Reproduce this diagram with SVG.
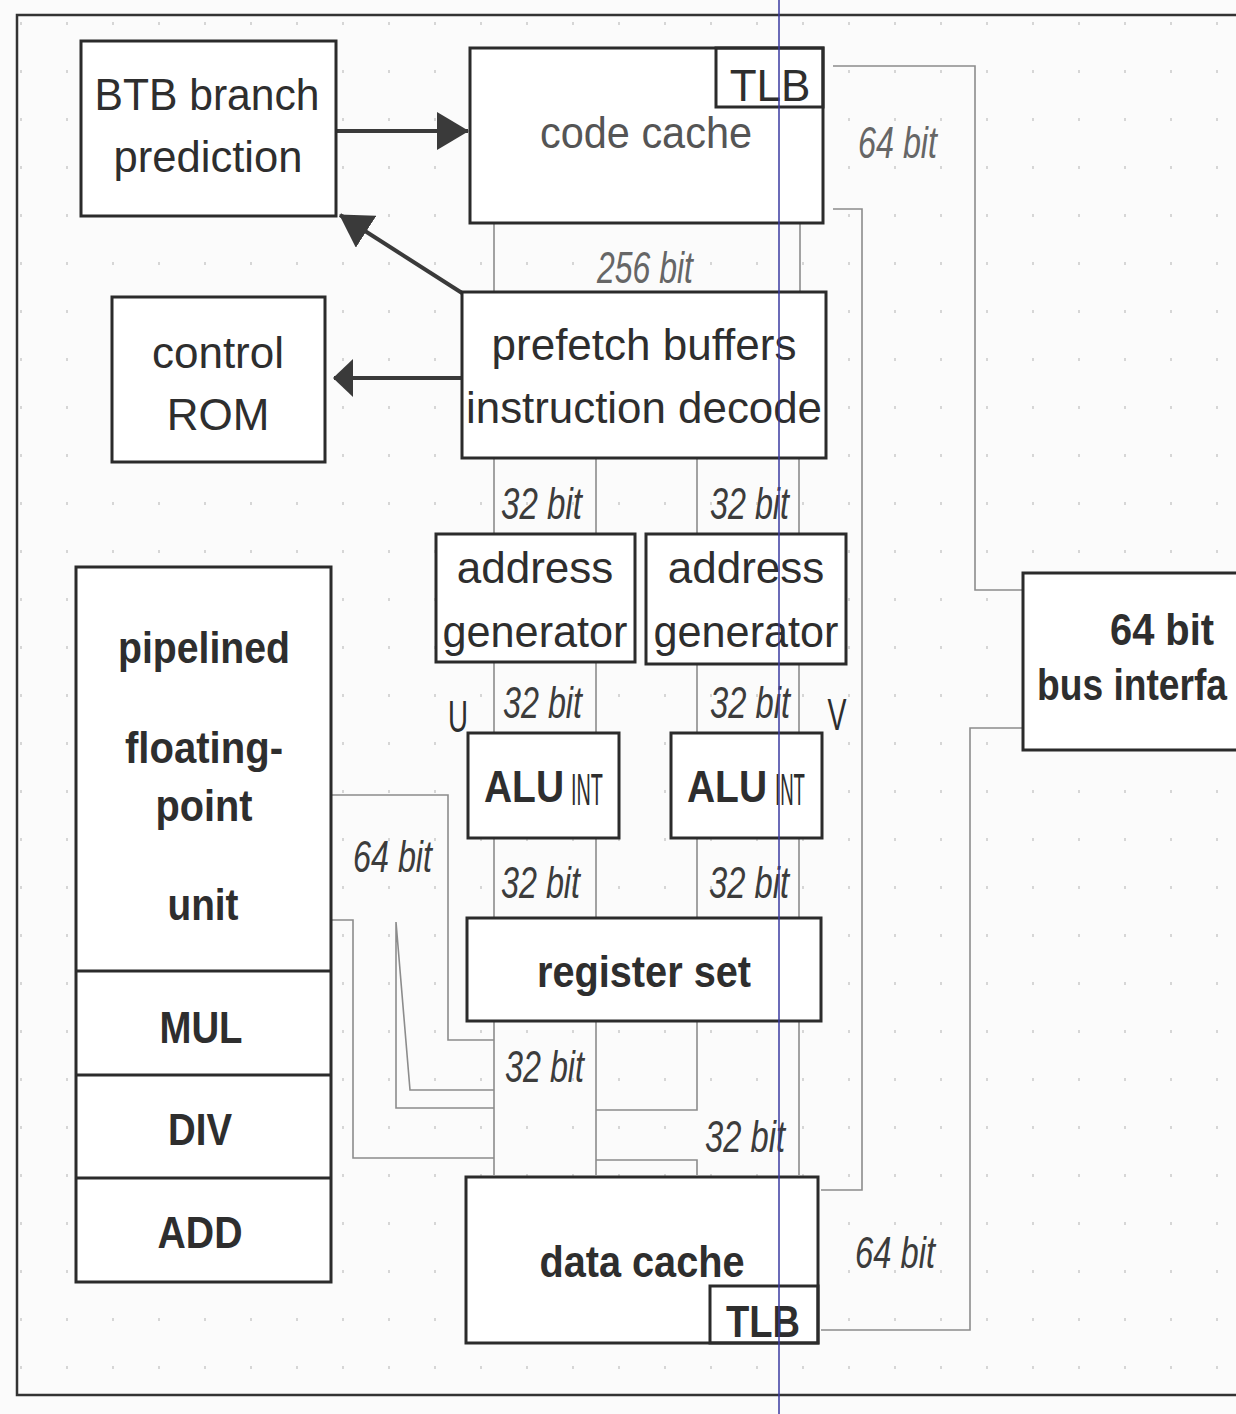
<svg xmlns="http://www.w3.org/2000/svg" width="1236" height="1414" viewBox="0 0 1236 1414">
<defs>
<style>
.box{fill:#fff;stroke:#2b2b2b;stroke-width:3}
.sub{fill:none;stroke:#2b2b2b;stroke-width:3}
.wire{fill:none;stroke:#8c8c8c;stroke-width:1.6}
.arr{fill:none;stroke:#3a3a3a;stroke-width:4}
.frame{fill:none;stroke:#333;stroke-width:2.5}
.t{font-family:"Liberation Sans",Arial,sans-serif;font-size:44px;fill:#2e2e2e;text-anchor:middle}
.b{font-weight:bold}
.g{fill:#555}
.lbl{font-family:"Liberation Sans",Arial,sans-serif;font-size:44px;font-style:italic;fill:#3c3c3c;text-anchor:start}
.lg{fill:#666}
</style>
<pattern id="dots" width="46" height="48" patternUnits="userSpaceOnUse">
<rect x="20" y="22" width="2" height="3" fill="#d6d6d6"/>
</pattern>
<marker id="ah" viewBox="0 0 32 38" refX="31" refY="19" markerWidth="32" markerHeight="38" orient="auto" markerUnits="userSpaceOnUse">
<path d="M0,0 L32,19 L0,38 z" fill="#3a3a3a"/>
</marker>
<marker id="ah2" viewBox="0 0 20 38" refX="19" refY="19" markerWidth="20" markerHeight="38" orient="auto" markerUnits="userSpaceOnUse">
<path d="M0,0 L20,19 L0,38 z" fill="#3a3a3a"/>
</marker>
</defs>
<rect width="1236" height="1414" fill="#fbfbfb"/>
<rect width="1236" height="1414" fill="url(#dots)"/>
<path class="frame" d="M1236,15 H17 V1395 H1236"/>

<g id="connectors">
<line class="arr" x1="336" y1="131" x2="468" y2="131" marker-end="url(#ah)"/>
<line class="arr" x1="462" y1="293" x2="340" y2="215" marker-end="url(#ah)"/>
<line class="arr" x1="462" y1="378" x2="334" y2="378" marker-end="url(#ah2)"/>
<path class="wire" d="M833,66 H975 V590 H1023"/>
<path class="wire" d="M833,209 H862 V1190 H821"/>
<path class="wire" d="M1023,728 H970 V1330 H821"/>
<path class="wire" d="M494,224 V292 M800,224 V292"/>
<path class="wire" d="M494,458 V533 M596,458 V533 M697,458 V533 M799,458 V533"/>
<path class="wire" d="M494,662 V733 M596,662 V733 M697,662 V733 M799,662 V733"/>
<path class="wire" d="M494,838 V918 M596,838 V918 M697,838 V918 M799,838 V918"/>
<path class="wire" d="M494,1022 V1175 M596,1022 V1175 M799,1022 V1175"/>
<path class="wire" d="M697,1022 V1110 H596 M596,1160 H697 V1175"/>
<path class="wire" d="M332,795 H448 V1040 H494"/>
<path class="wire" d="M332,920 H353 V1158 H494"/>
<path class="wire" d="M396,922 V1108 H494 M396,922 L410,1090 H494"/>
</g>

<g id="btb">
<rect class="box" x="81" y="41" width="255" height="175"/>
<text class="t" x="207" y="110" textLength="225" lengthAdjust="spacingAndGlyphs">BTB branch</text>
<text class="t" x="208" y="172" textLength="189" lengthAdjust="spacingAndGlyphs">prediction</text>
</g>

<g id="code-cache">
<rect class="box" x="470" y="48" width="353" height="175"/>
<rect class="sub" x="716" y="48" width="107" height="59"/>
<text class="t" x="770" y="101" font-size="40">TLB</text>
<text class="t g" x="646" y="148" textLength="212" lengthAdjust="spacingAndGlyphs">code cache</text>
</g>

<g id="control-rom">
<rect class="box" x="112" y="297" width="213" height="165"/>
<text class="t" x="218" y="368">control</text>
<text class="t" x="218" y="430">ROM</text>
</g>

<g id="prefetch">
<rect class="box" x="462" y="292" width="364" height="166"/>
<text class="t" x="644" y="360">prefetch buffers</text>
<text class="t" x="644" y="423" textLength="356" lengthAdjust="spacingAndGlyphs">instruction decode</text>
</g>

<g id="addr-gen-u">
<rect class="box" x="436" y="534" width="199" height="128"/>
<text class="t" x="535" y="583">address</text>
<text class="t" x="535" y="647" textLength="185" lengthAdjust="spacingAndGlyphs">generator</text>
</g>

<g id="addr-gen-v">
<rect class="box" x="646" y="534" width="200" height="130"/>
<text class="t" x="746" y="583">address</text>
<text class="t" x="746" y="647" textLength="185" lengthAdjust="spacingAndGlyphs">generator</text>
</g>

<g id="alu-u">
<rect class="box" x="468" y="733" width="151" height="105"/>
<text class="t b" x="524" y="802" textLength="80" lengthAdjust="spacingAndGlyphs">ALU</text>
<text class="t" x="587" y="805" font-size="25" textLength="32" lengthAdjust="spacingAndGlyphs">INT</text>
</g>

<g id="alu-v">
<rect class="box" x="671" y="733" width="151" height="105"/>
<text class="t b" x="727" y="802" textLength="80" lengthAdjust="spacingAndGlyphs">ALU</text>
<text class="t" x="790" y="805" font-size="25" textLength="30" lengthAdjust="spacingAndGlyphs">INT</text>
</g>

<g id="register-set">
<rect class="box" x="467" y="918" width="354" height="103"/>
<text class="t b" x="644" y="987" font-size="42" textLength="214" lengthAdjust="spacingAndGlyphs">register set</text>
</g>

<g id="data-cache">
<rect class="box" x="466" y="1177" width="352" height="166"/>
<rect class="sub" x="710" y="1286" width="108" height="57"/>
<text class="t b" x="642" y="1277" font-size="42" textLength="205" lengthAdjust="spacingAndGlyphs">data cache</text>
<text class="t b" x="763" y="1337" font-size="40" textLength="74" lengthAdjust="spacingAndGlyphs">TLB</text>
</g>

<g id="fpu">
<rect class="box" x="76" y="567" width="255" height="715"/>
<path class="sub" d="M76,971 H331 M76,1075 H331 M76,1178 H331"/>
<text class="t b" x="204" y="663" font-size="42" textLength="172" lengthAdjust="spacingAndGlyphs">pipelined</text>
<text class="t b" x="204" y="763" font-size="42" textLength="158" lengthAdjust="spacingAndGlyphs">floating-</text>
<text class="t b" x="204" y="821" font-size="42" textLength="97" lengthAdjust="spacingAndGlyphs">point</text>
<text class="t b" x="203" y="920" font-size="42" textLength="71" lengthAdjust="spacingAndGlyphs">unit</text>
<text class="t b" x="201" y="1043" font-size="42" textLength="83" lengthAdjust="spacingAndGlyphs">MUL</text>
<text class="t b" x="200" y="1145" font-size="42" textLength="64" lengthAdjust="spacingAndGlyphs">DIV</text>
<text class="t b" x="200" y="1248" font-size="42" textLength="85" lengthAdjust="spacingAndGlyphs">ADD</text>
</g>

<g id="bus-interface">
<rect x="1023" y="573" width="213" height="177" fill="#fff"/>
<path class="sub" d="M1236,573 H1023 V750 H1236"/>
<text class="t b" x="1162" y="645" font-size="42" textLength="104" lengthAdjust="spacingAndGlyphs">64 bit</text>
<text class="t b" x="1037" y="700" font-size="37" style="text-anchor:start" textLength="190" lengthAdjust="spacingAndGlyphs">bus interfa</text>
</g>

<g id="labels">
<text class="lbl lg" x="858" y="158" textLength="79" lengthAdjust="spacingAndGlyphs">64 bit</text>
<text class="lbl lg" x="597" y="283" textLength="96" lengthAdjust="spacingAndGlyphs">256 bit</text>
<text class="lbl" x="501" y="519" textLength="81" lengthAdjust="spacingAndGlyphs">32 bit</text>
<text class="lbl" x="710" y="519" textLength="79" lengthAdjust="spacingAndGlyphs">32 bit</text>
<text class="lbl" x="503" y="718" textLength="79" lengthAdjust="spacingAndGlyphs">32 bit</text>
<text class="lbl" x="710" y="718" textLength="80" lengthAdjust="spacingAndGlyphs">32 bit</text>
<text class="t" x="458" y="732" textLength="20" lengthAdjust="spacingAndGlyphs">U</text>
<text class="t" x="837" y="730" textLength="19" lengthAdjust="spacingAndGlyphs">V</text>
<text class="lbl" x="501" y="898" textLength="79" lengthAdjust="spacingAndGlyphs">32 bit</text>
<text class="lbl" x="709" y="898" textLength="80" lengthAdjust="spacingAndGlyphs">32 bit</text>
<text class="lbl" x="353" y="872" textLength="79" lengthAdjust="spacingAndGlyphs">64 bit</text>
<text class="lbl" x="505" y="1082" textLength="79" lengthAdjust="spacingAndGlyphs">32 bit</text>
<text class="lbl" x="705" y="1152" textLength="80" lengthAdjust="spacingAndGlyphs">32 bit</text>
<text class="lbl" x="855" y="1268" textLength="80" lengthAdjust="spacingAndGlyphs">64 bit</text>
</g>

<line x1="779" y1="0" x2="779" y2="1414" stroke="#3a3aa0" stroke-width="1.5"/>
</svg>
